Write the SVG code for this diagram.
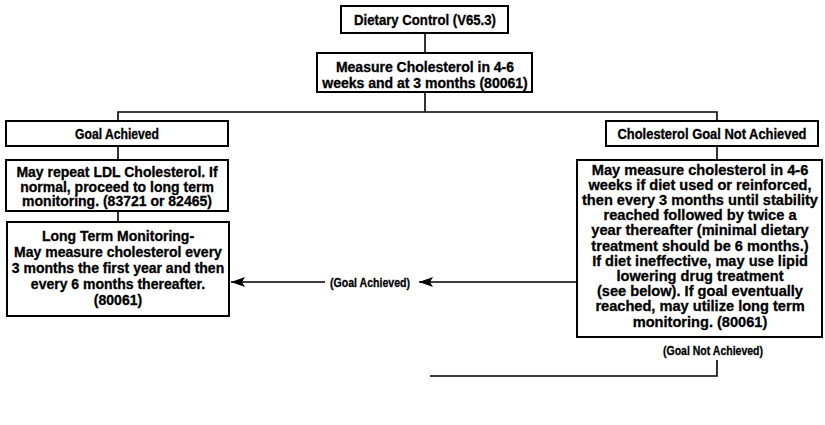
<svg xmlns="http://www.w3.org/2000/svg" width="825" height="425" viewBox="0 0 825 425">
  <style>
    .box { fill: #ffffff; stroke: #000000; stroke-width: 2; }
    .lbl { font-family: "Liberation Sans", Arial, Helvetica, sans-serif; font-weight: bold; fill: #000000; stroke: #000000; stroke-width: 0.3; text-anchor: middle; }
    .title { font-size: 14px; }
    .body { font-size: 14px; }
    .wide { font-size: 14.6px; }
    .note { font-size: 13.5px; }
    .wire { fill: none; stroke: #000000; stroke-width: 1.6; }
  </style>
  <defs>
    <marker id="head" viewBox="0 0 14 10" refX="14" refY="5" markerWidth="14" markerHeight="10" markerUnits="userSpaceOnUse" orient="auto">
      <path d="M0,0 L14,5 L0,10 L3,5 Z" fill="#000000"/>
    </marker>
  </defs>
  <rect width="825" height="425" fill="#ffffff"/>

  <!-- connectors -->
  <g id="connectors">
    <line class="wire" x1="425" y1="33" x2="425" y2="53"/>
    <line class="wire" x1="425" y1="92" x2="425" y2="112"/>
    <polyline class="wire" points="118,121 118,112 717,112 717,121"/>
    <line class="wire" x1="118" y1="146" x2="118" y2="160"/>
    <line class="wire" x1="118" y1="211" x2="118" y2="222"/>
    <line class="wire" x1="717" y1="146" x2="717" y2="160"/>
    <!-- goal achieved return path -->
    <line class="wire" x1="577" y1="282" x2="419" y2="282" marker-end="url(#head)"/>
    <line class="wire" x1="325" y1="282" x2="231" y2="282" marker-end="url(#head)"/>
    <text class="lbl note" x="370" y="287" textLength="80" lengthAdjust="spacingAndGlyphs">(Goal Achieved)</text>
    <!-- goal not achieved path -->
    <text class="lbl note" x="713" y="355" textLength="100" lengthAdjust="spacingAndGlyphs">(Goal Not Achieved)</text>
    <polyline class="wire" points="717,360 717,376 430,376"/>
  </g>

  <g id="dietary-control">
    <rect class="box" x="341" y="6" width="167" height="27"/>
    <text class="lbl title" x="425" y="25" textLength="142" lengthAdjust="spacingAndGlyphs">Dietary Control (V65.3)</text>
  </g>

  <g id="measure-cholesterol">
    <rect class="box" x="317" y="53" width="215" height="39"/>
    <text class="lbl body" x="425" y="71.5">Measure Cholesterol in 4-6</text>
    <text class="lbl body" x="425" y="87.5">weeks and at 3 months (80061)</text>
  </g>

  <g id="goal-achieved">
    <rect class="box" x="6" y="121" width="222" height="25"/>
    <text class="lbl title" x="117" y="139" textLength="84" lengthAdjust="spacingAndGlyphs">Goal Achieved</text>
  </g>

  <g id="repeat-ldl">
    <rect class="box" x="6" y="160" width="222" height="51"/>
    <text class="lbl body" x="117" y="176.5">May repeat LDL Cholesterol. If</text>
    <text class="lbl body" x="117" y="191.5">normal, proceed to long term</text>
    <text class="lbl body" x="117" y="206">monitoring. (83721 or 82465)</text>
  </g>

  <g id="long-term-monitoring">
    <rect class="box" x="7" y="222" width="222" height="94"/>
    <text class="lbl body" x="118" y="240.5">Long Term Monitoring-</text>
    <text class="lbl body" x="118" y="256.5">May measure cholesterol every</text>
    <text class="lbl body" x="118" y="272.5">3 months the first year and then</text>
    <text class="lbl body" x="118" y="288.5">every 6 months thereafter.</text>
    <text class="lbl body" x="118" y="304.5">(80061)</text>
  </g>

  <g id="goal-not-achieved">
    <rect class="box" x="606" y="121" width="212" height="25"/>
    <text class="lbl title" x="712" y="139" textLength="189" lengthAdjust="spacingAndGlyphs">Cholesterol Goal Not Achieved</text>
  </g>

  <g id="not-achieved-plan">
    <rect class="box" x="577" y="160" width="245" height="177"/>
    <text class="lbl wide" x="700" y="174.5">May measure cholesterol in 4-6</text>
    <text class="lbl wide" x="700" y="189.7">weeks if diet used or reinforced,</text>
    <text class="lbl wide" x="700" y="204.9">then every 3 months until stability</text>
    <text class="lbl wide" x="700" y="220.1">reached followed by twice a</text>
    <text class="lbl wide" x="700" y="235.3">year thereafter (minimal dietary</text>
    <text class="lbl wide" x="700" y="250.5">treatment should be 6 months.)</text>
    <text class="lbl wide" x="700" y="265.7">If diet ineffective, may use lipid</text>
    <text class="lbl wide" x="700" y="280.9">lowering drug treatment</text>
    <text class="lbl wide" x="700" y="296.1">(see below). If goal eventually</text>
    <text class="lbl wide" x="700" y="311.3">reached, may utilize long term</text>
    <text class="lbl wide" x="700" y="326.5">monitoring. (80061)</text>
  </g>
</svg>
